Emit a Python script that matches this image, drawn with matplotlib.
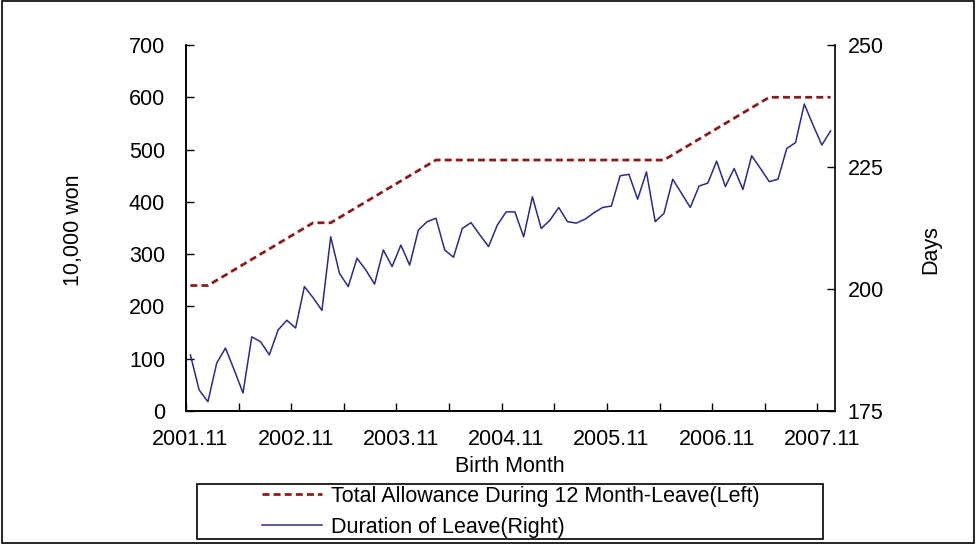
import numpy as np
import matplotlib.pyplot as plt
from matplotlib.patches import Rectangle
from matplotlib.lines import Line2D

plt.rcParams['font.family'] = ['Liberation Sans', 'DejaVu Sans']
plt.rcParams['lines.scale_dashes'] = False

# birth months 2001.11 .. 2007.12 (one value per month)
tick_labels = ['2001.11', '2002.11', '2003.11', '2004.11', '2005.11', '2006.11', '2007.11']

# total allowance during 12 month leave, 10,000 won (left axis)
allowance = [240, 240, 240,
             250, 260, 270, 280, 290, 300, 310, 320, 330, 340, 350, 360,
             360, 360,
             370, 380, 390, 400, 410, 420, 430, 440, 450, 460, 470, 480,
             480, 480, 480, 480, 480, 480, 480, 480, 480, 480, 480, 480, 480,
             480, 480, 480, 480, 480, 480, 480, 480, 480, 480, 480, 480, 480,
             490, 500, 510, 520, 530, 540, 550, 560, 570, 580, 590, 600,
             600, 600, 600, 600, 600, 600, 600]

# duration of leave, days (right axis)
duration = [186.5, 179.3, 176.9, 184.8, 187.9, 183.4, 178.7, 190.2, 189.2, 186.5,
            191.6, 193.6, 192.0, 200.5, 198.2, 195.6, 210.7, 203.2, 200.5, 206.3,
            203.9, 201.0, 208.0, 204.6, 209.0, 204.9, 212.1, 213.8, 214.5, 208.0,
            206.5, 212.4, 213.6, 211.1, 208.7, 213.1, 215.8, 215.8, 210.7, 218.9,
            212.4, 214.1, 216.7, 213.8, 213.5, 214.3, 215.6, 216.7, 217.0, 223.2,
            223.5, 218.4, 224.0, 213.8, 215.5, 222.5, 219.6, 216.7, 221.1, 221.7,
            226.2, 221.0, 224.7, 220.4, 227.3, 224.7, 222.0, 222.5, 228.8, 230.0,
            237.9, 233.6, 229.5, 232.4]

x = np.arange(len(duration))
red = '#8c1c1c'
blue = '#2b2b86'
fs = 15.5

fig = plt.figure(figsize=(9.76, 5.44), dpi=100)
ax1 = fig.add_axes([186 / 976, 1 - 411 / 544, 649 / 976, 366 / 544])
ax2 = ax1.twinx()

ax1.plot(x, allowance, color=red, lw=2.0, dashes=(5, 3))
ax2.plot(x, duration, color=blue, lw=1.1)

ax1.set_xlim(-0.5, len(x) - 0.5)
ax1.set_ylim(0, 700)
ax1.set_yticks(range(0, 701, 100))
ax2.set_ylim(175, 250)
ax2.set_yticks([175, 200, 225, 250])

# tick marks every 6 months, labels every 12 months
ax1.set_xticks(np.arange(-0.5, len(x), 6))
ax1.set_xticklabels([])
ax1.set_xticks(np.arange(0, len(x), 12), minor=True)
ax1.set_xticklabels(tick_labels, minor=True, fontsize=fs)
ax1.tick_params(axis='x', which='major', direction='in', length=6, width=1)
ax1.tick_params(axis='x', which='minor', length=0, pad=13)
ax1.tick_params(axis='y', direction='in', length=6, width=1, pad=15, labelsize=fs)
ax2.tick_params(axis='y', direction='in', length=6, width=1, pad=9, labelsize=fs)

for a in (ax1, ax2):
    a.spines['top'].set_visible(False)
    for s in a.spines.values():
        s.set_linewidth(1.2)
ax1.spines['right'].set_visible(False)

fig.text(73 / 976, 1 - 230 / 544, '10,000 won', rotation=90, ha='center', va='center', fontsize=fs)
fig.text(931 / 976, 1 - 250 / 544, 'Days', rotation=90, ha='center', va='center', fontsize=fs)
fig.text(510 / 976, 1 - 466 / 544, 'Birth Month', ha='center', va='center', fontsize=fs)

# legend box below the chart
fig.patches.append(Rectangle((197 / 976, 1 - 539 / 544), 626 / 976, 55 / 544,
                             transform=fig.transFigure, fill=False, ec='black', lw=1.2))
handles = [Line2D([], [], color=red, lw=2.0, dashes=(5, 3)),
           Line2D([], [], color=blue, lw=1.1)]
labels = ['Total Allowance During 12 Month-Leave(Left)', 'Duration of Leave(Right)']
fig.legend(handles, labels, loc='upper left', bbox_to_anchor=(262 / 976, 1 - 486 / 544),
           frameon=False, borderpad=0, borderaxespad=0, handlelength=2.8,
           handletextpad=0.42, labelspacing=0.45, fontsize=fs)

# outer frame
fig.patches.append(Rectangle((0.002, 0.002), 0.996, 0.996, transform=fig.transFigure,
                             fill=False, ec='black', lw=1.2))

fig.savefig('out.png', dpi=100)
